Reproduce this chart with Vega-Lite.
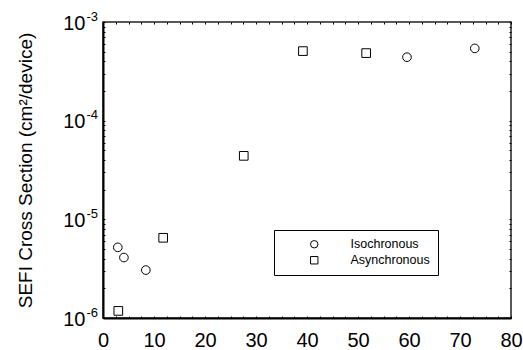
{
  "$schema": "https://vega.github.io/schema/vega-lite/v6.json",
  "width": 408,
  "height": 296,
  "autosize": {"type": "none"},
  "padding": {"left": 103, "top": 22, "right": 12, "bottom": 32},
  "background": "white",
  "config": {
    "view": {"stroke": "#222", "strokeWidth": 1.5},
    "font": "Liberation Sans",
    "axis": {"domainColor": "#000", "tickColor": "#000", "labelColor": "#000", "titleColor": "#000", "grid": false}
  },
  "data": {
    "values": [
      {"series": "Isochronous", "x": 2.9, "y": 5.2e-6},
      {"series": "Isochronous", "x": 4.1, "y": 4.1e-6},
      {"series": "Isochronous", "x": 8.4, "y": 3.06e-6},
      {"series": "Isochronous", "x": 59.6, "y": 4.4e-4},
      {"series": "Isochronous", "x": 72.9, "y": 5.4e-4},
      {"series": "Asynchronous", "x": 3.0, "y": 1.18e-6},
      {"series": "Asynchronous", "x": 11.8, "y": 6.5e-6},
      {"series": "Asynchronous", "x": 27.6, "y": 4.4e-5},
      {"series": "Asynchronous", "x": 39.2, "y": 5.07e-4},
      {"series": "Asynchronous", "x": 51.6, "y": 4.84e-4}
    ]
  },
  "resolve": {"axis": {"x": "independent", "y": "independent"}},
  "layer": [
    {
      "mark": {"type": "point", "filled": false, "stroke": "#000", "strokeWidth": 1, "size": 75, "opacity": 1},
      "encoding": {
        "x": {
          "field": "x", "type": "quantitative",
          "scale": {"domain": [0, 80], "nice": false, "zero": false},
          "axis": {
            "orient": "bottom", "title": null, "domainWidth": 2,
            "values": [0, 2.5, 5, 7.5, 10, 12.5, 15, 17.5, 20, 22.5, 25, 27.5, 30, 32.5, 35, 37.5, 40, 42.5, 45, 47.5, 50, 52.5, 55, 57.5, 60, 62.5, 65, 67.5, 70, 72.5, 75, 77.5, 80],
            "labelExpr": "datum.value % 10 == 0 ? format(datum.value, 'd') : ''",
            "tickSize": -2,
            "labelFontSize": 20, "labelPadding": 14.5, "labelFlush": false, "labelOverlap": false
          }
        },
        "y": {
          "field": "y", "type": "quantitative",
          "scale": {"type": "log", "domain": [1e-6, 1e-3], "nice": false},
          "axis": {
            "orient": "left", "domainWidth": 2,
            "title": "SEFI Cross Section (cm²/device)",
            "titleFontSize": 19, "titleFontWeight": "normal", "titlePadding": 27,
            "values": [1e-6, 2e-6, 3e-6, 4e-6, 5e-6, 6e-6, 7e-6, 8e-6, 9e-6, 1e-5, 2e-5, 3e-5, 4e-5, 5e-5, 6e-5, 7e-5, 8e-5, 9e-5, 1e-4, 2e-4, 3e-4, 4e-4, 5e-4, 6e-4, 7e-4, 8e-4, 9e-4, 1e-3],
            "labelExpr": "abs(datum.value - 1e-6) < 1e-9 || abs(datum.value - 1e-5) < 1e-8 || abs(datum.value - 1e-4) < 1e-7 || abs(datum.value - 1e-3) < 1e-6 ? '10' : ''",
            "tickSize": -2,
            "labelFontSize": 20, "labelPadding": 20, "labelOffset": 1, "labelFlush": false, "labelOverlap": false
          }
        },
        "shape": {
          "field": "series", "type": "nominal",
          "scale": {"domain": ["Isochronous", "Asynchronous"], "range": ["circle", "square"]},
          "legend": {
            "title": null, "orient": "none", "legendX": 171, "legendY": 208,
            "direction": "vertical",
            "strokeColor": "#000", "fillColor": "white",
            "padding": 8, "symbolOffset": 26, "labelOffset": 30,
            "labelFontSize": 12.5, "symbolSize": 55, "symbolStrokeColor": "#000", "symbolFillColor": "transparent", "symbolStrokeWidth": 1,
            "rowPadding": 3, "labelColor": "#000"
          }
        }
      }
    },
    {
      "mark": {"type": "point", "opacity": 0},
      "encoding": {
        "x": {
          "field": "x", "type": "quantitative",
          "axis": {
            "orient": "top", "title": null, "labels": false, "domain": false,
            "values": [0, 2.5, 5, 7.5, 10, 12.5, 15, 17.5, 20, 22.5, 25, 27.5, 30, 32.5, 35, 37.5, 40, 42.5, 45, 47.5, 50, 52.5, 55, 57.5, 60, 62.5, 65, 67.5, 70, 72.5, 75, 77.5, 80],
            "tickSize": -2
          }
        },
        "y": {
          "field": "y", "type": "quantitative",
          "axis": {
            "orient": "left", "title": null, "domain": false, "ticks": false, "tickSize": 0,
            "values": [1e-6, 1e-5, 1e-4, 1e-3],
            "labelExpr": "abs(datum.value - 1e-6) < 1e-9 ? '-6' : abs(datum.value - 1e-5) < 1e-8 ? '-5' : abs(datum.value - 1e-4) < 1e-7 ? '-4' : '-3'",
            "labelAlign": "left", "labelBaseline": "middle",
            "labelFontSize": 13, "labelPadding": 17, "labelOffset": -6, "labelFlush": false, "labelOverlap": false
          }
        }
      }
    },
    {
      "mark": {"type": "point", "opacity": 0},
      "encoding": {
        "x": {"field": "x", "type": "quantitative", "axis": null},
        "y": {
          "field": "y", "type": "quantitative",
          "axis": {
            "orient": "right", "title": null, "labels": false, "domain": false,
            "values": [1e-6, 2e-6, 3e-6, 4e-6, 5e-6, 6e-6, 7e-6, 8e-6, 9e-6, 1e-5, 2e-5, 3e-5, 4e-5, 5e-5, 6e-5, 7e-5, 8e-5, 9e-5, 1e-4, 2e-4, 3e-4, 4e-4, 5e-4, 6e-4, 7e-4, 8e-4, 9e-4, 1e-3],
            "tickSize": -2
          }
        }
      }
    }
  ]
}
